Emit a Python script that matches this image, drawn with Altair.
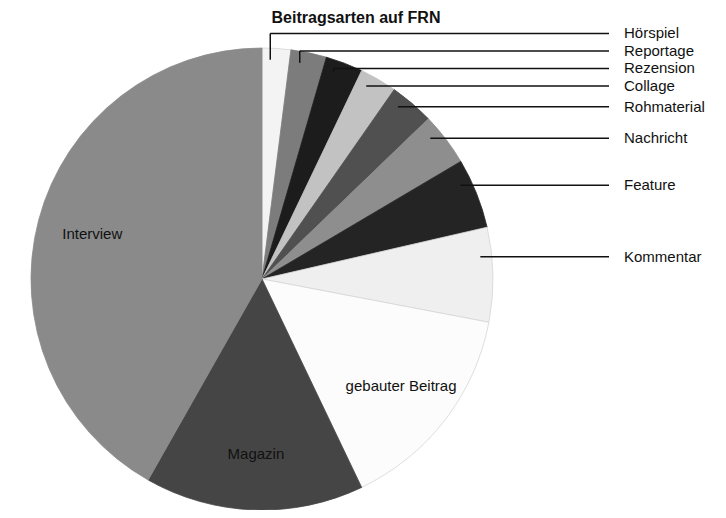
import math
import altair as alt
import pandas as pd

# ---- data (shares in percent) ----
categories = ["Hörspiel", "Reportage", "Rezension", "Collage", "Rohmaterial",
              "Nachricht", "Feature", "Kommentar", "gebauter Beitrag",
              "Magazin", "Interview"]
shares = [2.0, 2.5, 2.6, 2.6, 3.1, 3.7, 4.9, 6.6, 14.9, 15.3, 41.8]
inside_labels = ["gebauter Beitrag", "Magazin", "Interview"]

# ---- styles ----
fill_colors = ["#f3f3f3", "#7c7c7c", "#1c1c1c", "#c2c2c2", "#505050", "#8e8e8e",
               "#242424", "#efefef", "#fcfcfc", "#454545", "#8a8a8a"]
edge_colors = ["#d6d6d6", "#7c7c7c", "#1c1c1c", "#c2c2c2", "#505050", "#8e8e8e",
               "#242424", "#d6d6d6", "#d6d6d6", "#454545", "#8a8a8a"]
FONT = "Liberation Sans"

# ---- layout (pixels) ----
W, H = 710, 470
PAD_TOP = 32
R_PX = 231
CX_PX, CY_PX = 254, 239          # pie centre inside the view
ANCHOR_R = 0.95                  # leader anchors, fraction of radius
ANCHOR_FRAC = 0.3                # position of anchor inside the slice
INSIDE_R = 0.76
LINE_END = 347 / R_PX            # right end of leader lines (units)
TEXT_X = 362 / R_PX              # start of outside label text (units)
GAP = 17.5 / R_PX                # min vertical distance between labels

# unit coordinates: pie centre at (0,0), radius 1
xs = alt.Scale(domain=[-CX_PX / R_PX, (W - CX_PX) / R_PX], nice=False, zero=False)
ys = alt.Scale(domain=[-(H - CY_PX) / R_PX, CY_PX / R_PX], nice=False, zero=False)

total = sum(shares)
rows = []
start = 0.0
for i, (c, s) in enumerate(zip(categories, shares)):
    span = s / total * 2 * math.pi
    a_anchor = start + ANCHOR_FRAC * span
    a_mid = start + span / 2
    rows.append(dict(
        cat=c, share=s, idx=i, cx=0.0, cy=0.0,
        ax=ANCHOR_R * math.sin(a_anchor), ay=ANCHOR_R * math.cos(a_anchor),
        ix=INSIDE_R * math.sin(a_mid), iy=INSIDE_R * math.cos(a_mid),
        inside=c in inside_labels,
    ))
    start += span

df = pd.DataFrame(rows)

# label layout: push labels upward so they keep a minimum gap
out = df[~df["inside"]].copy().sort_values("ay")   # lowest first
ly = []
prev = None
for ay in out["ay"]:
    y = ay if prev is None else max(ay, prev + GAP)
    ly.append(y)
    prev = y
out["ly"] = ly
out["lx_end"] = LINE_END
out["tx"] = TEXT_X
ins = df[df["inside"]]

X = lambda f: alt.X(f, type="quantitative", scale=xs, axis=None)
Y = lambda f: alt.Y(f, type="quantitative", scale=ys, axis=None)

pie = alt.Chart(df).mark_arc(radius=R_PX, strokeWidth=0.8).encode(
    theta=alt.Theta("share:Q", stack=True),
    order=alt.Order("idx:Q"),
    color=alt.Color("cat:N", scale=alt.Scale(domain=categories, range=fill_colors), legend=None),
    stroke=alt.Stroke("cat:N", scale=alt.Scale(domain=categories, range=edge_colors), legend=None),
    x=X("cx"), y=Y("cy"),
)

hlines = alt.Chart(out).mark_rule(color="#111111", strokeWidth=1.5).encode(
    x=X("ax"), x2=alt.X2("lx_end"), y=Y("ly"),
)
vlines = alt.Chart(out).mark_rule(color="#111111", strokeWidth=1.5).encode(
    x=X("ax"), y=Y("ay"), y2=alt.Y2("ly"),
)
out_text = alt.Chart(out).mark_text(
    align="left", baseline="middle", font=FONT, fontSize=15, color="#111111"
).encode(x=X("tx"), y=Y("ly"), text="cat:N")

in_text = alt.Chart(ins).mark_text(
    align="center", baseline="middle", font=FONT, fontSize=15, color="#111111"
).encode(x=X("ix"), y=Y("iy"), text="cat:N")

chart = alt.layer(pie, hlines, vlines, out_text, in_text).properties(
    width=W, height=H,
    autosize="none",
    padding={"left": 0, "top": PAD_TOP, "right": 0, "bottom": 0},
    title=alt.TitleParams(
        "Beitragsarten auf FRN", font=FONT, fontSize=16, fontWeight="bold",
        color="#111111", anchor="middle", dx=-7, offset=-16, baseline="bottom",
    ),
).configure_view(stroke=None)

chart.save("out.html", embed_options={"renderer": "svg", "actions": False})
